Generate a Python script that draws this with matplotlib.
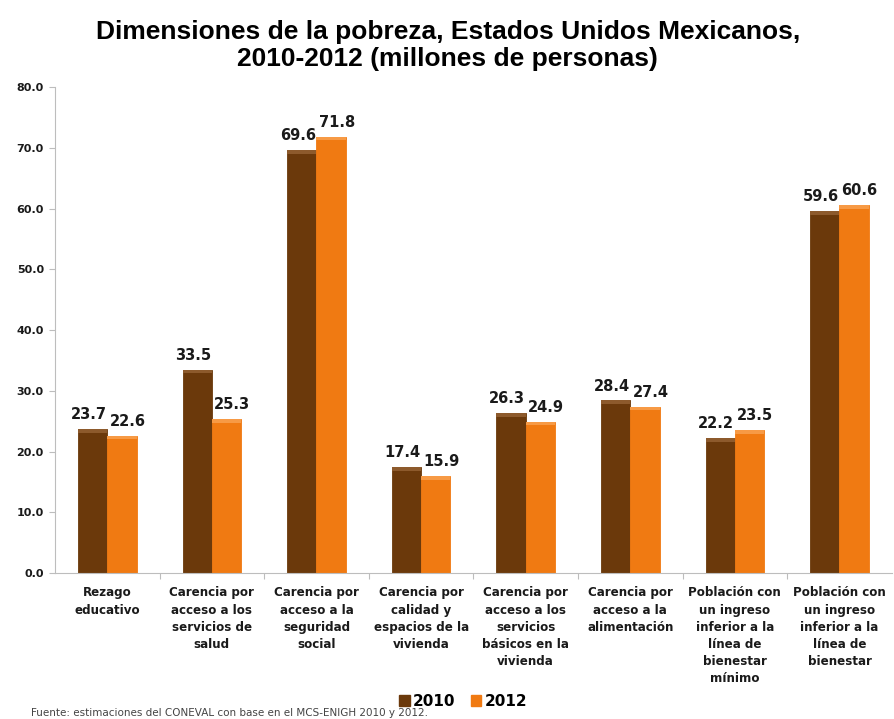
import numpy as np
import matplotlib
matplotlib.use("Agg")
import matplotlib.pyplot as plt
from matplotlib.patches import Patch

# Dimensiones de la pobreza (millones de personas)
categorias = [
    "Rezago\neducativo",
    "Carencia por\nacceso a los\nservicios de\nsalud",
    "Carencia por\nacceso a la\nseguridad\nsocial",
    "Carencia por\ncalidad y\nespacios de la\nvivienda",
    "Carencia por\nacceso a los\nservicios\nbásicos en la\nvivienda",
    "Carencia por\nacceso a la\nalimentación",
    "Población con\nun ingreso\ninferior a la\nlínea de\nbienestar\nmínimo",
    "Población con\nun ingreso\ninferior a la\nlínea de\nbienestar",
]
valores_2010 = [23.7, 33.5, 69.6, 17.4, 26.3, 28.4, 22.2, 59.6]
valores_2012 = [22.6, 25.3, 71.8, 15.9, 24.9, 27.4, 23.5, 60.6]
anios = ["2010", "2012"]

color_2010 = "#6b390b"
color_2012 = "#f07a12"
brillo_2010 = "#8d5a2c"
brillo_2012 = "#f79a45"

fig = plt.figure(figsize=(8.94, 7.19), dpi=100)
ax = fig.add_axes([0.0615, 0.203, 0.936, 0.676])

x = np.arange(len(categorias))
ancho = 0.28

for vals, off, col, luz, dx in [
    (valores_2010, -ancho / 2, color_2010, brillo_2010, -3),
    (valores_2012, ancho / 2, color_2012, brillo_2012, 4),
]:
    ax.bar(x + off, vals, ancho, color=col, edgecolor=col, linewidth=0.6, zorder=2)
    # bisel claro en la parte superior de cada barra
    ax.bar(x + off, [0.6] * len(vals), ancho, bottom=[v - 0.6 for v in vals],
           color=luz, linewidth=0, zorder=3)
    for xi, v in zip(x + off, vals):
        ax.annotate(f"{v:.1f}", (xi, v), xytext=(dx, 5), textcoords="offset points",
                    ha="center", va="bottom", fontsize=10.5, fontweight="bold",
                    color="#1a1a1a", family="DejaVu Sans")

ax.set_xlim(-0.5, len(categorias) - 0.5)
ax.set_ylim(0, 80)
ax.set_yticks(np.arange(0, 81, 10))
ax.set_yticklabels([f"{t:.1f}" for t in np.arange(0, 81, 10)],
                   fontsize=8, fontweight="bold", color="#1a1a1a")

# separadores entre categorías en el eje x
ax.set_xticks(np.arange(0.5, len(categorias) - 0.5, 1))
ax.set_xticklabels([])
ax.tick_params(axis="x", length=4, color="#bdbdbd", direction="out")
ax.tick_params(axis="y", length=4, color="#bdbdbd", pad=4)
for xi, lab in zip(x, categorias):
    ax.text(xi, -2.2, lab, ha="center", va="top", fontsize=8.6, fontweight="bold",
            color="#1a1a1a", linespacing=1.41, transform=ax.transData)

for s in ["top", "right"]:
    ax.spines[s].set_visible(False)
ax.spines["left"].set_color("#bdbdbd")
ax.spines["bottom"].set_color("#bdbdbd")

fig.text(0.501, 0.937, "Dimensiones de la pobreza, Estados Unidos Mexicanos,\n2010-2012 (millones de personas)",
         ha="center", va="center", fontsize=19, fontweight="bold",
         family="Liberation Sans", linespacing=1.15)

handles = [Patch(color=color_2010), Patch(color=color_2012)]
fig.legend(handles, anios, loc="center", bbox_to_anchor=(0.518, 0.025), ncol=2,
           frameon=False, prop={"weight": "bold", "size": 11},
           handlelength=0.7, handleheight=0.7, handletextpad=0.2, columnspacing=1.0)

fig.text(0.035, 0.008, "Fuente: estimaciones del CONEVAL con base en el MCS-ENIGH 2010 y 2012.",
         ha="left", va="center", fontsize=7.5, color="#444444")

fig.savefig("out.png", dpi=100)
